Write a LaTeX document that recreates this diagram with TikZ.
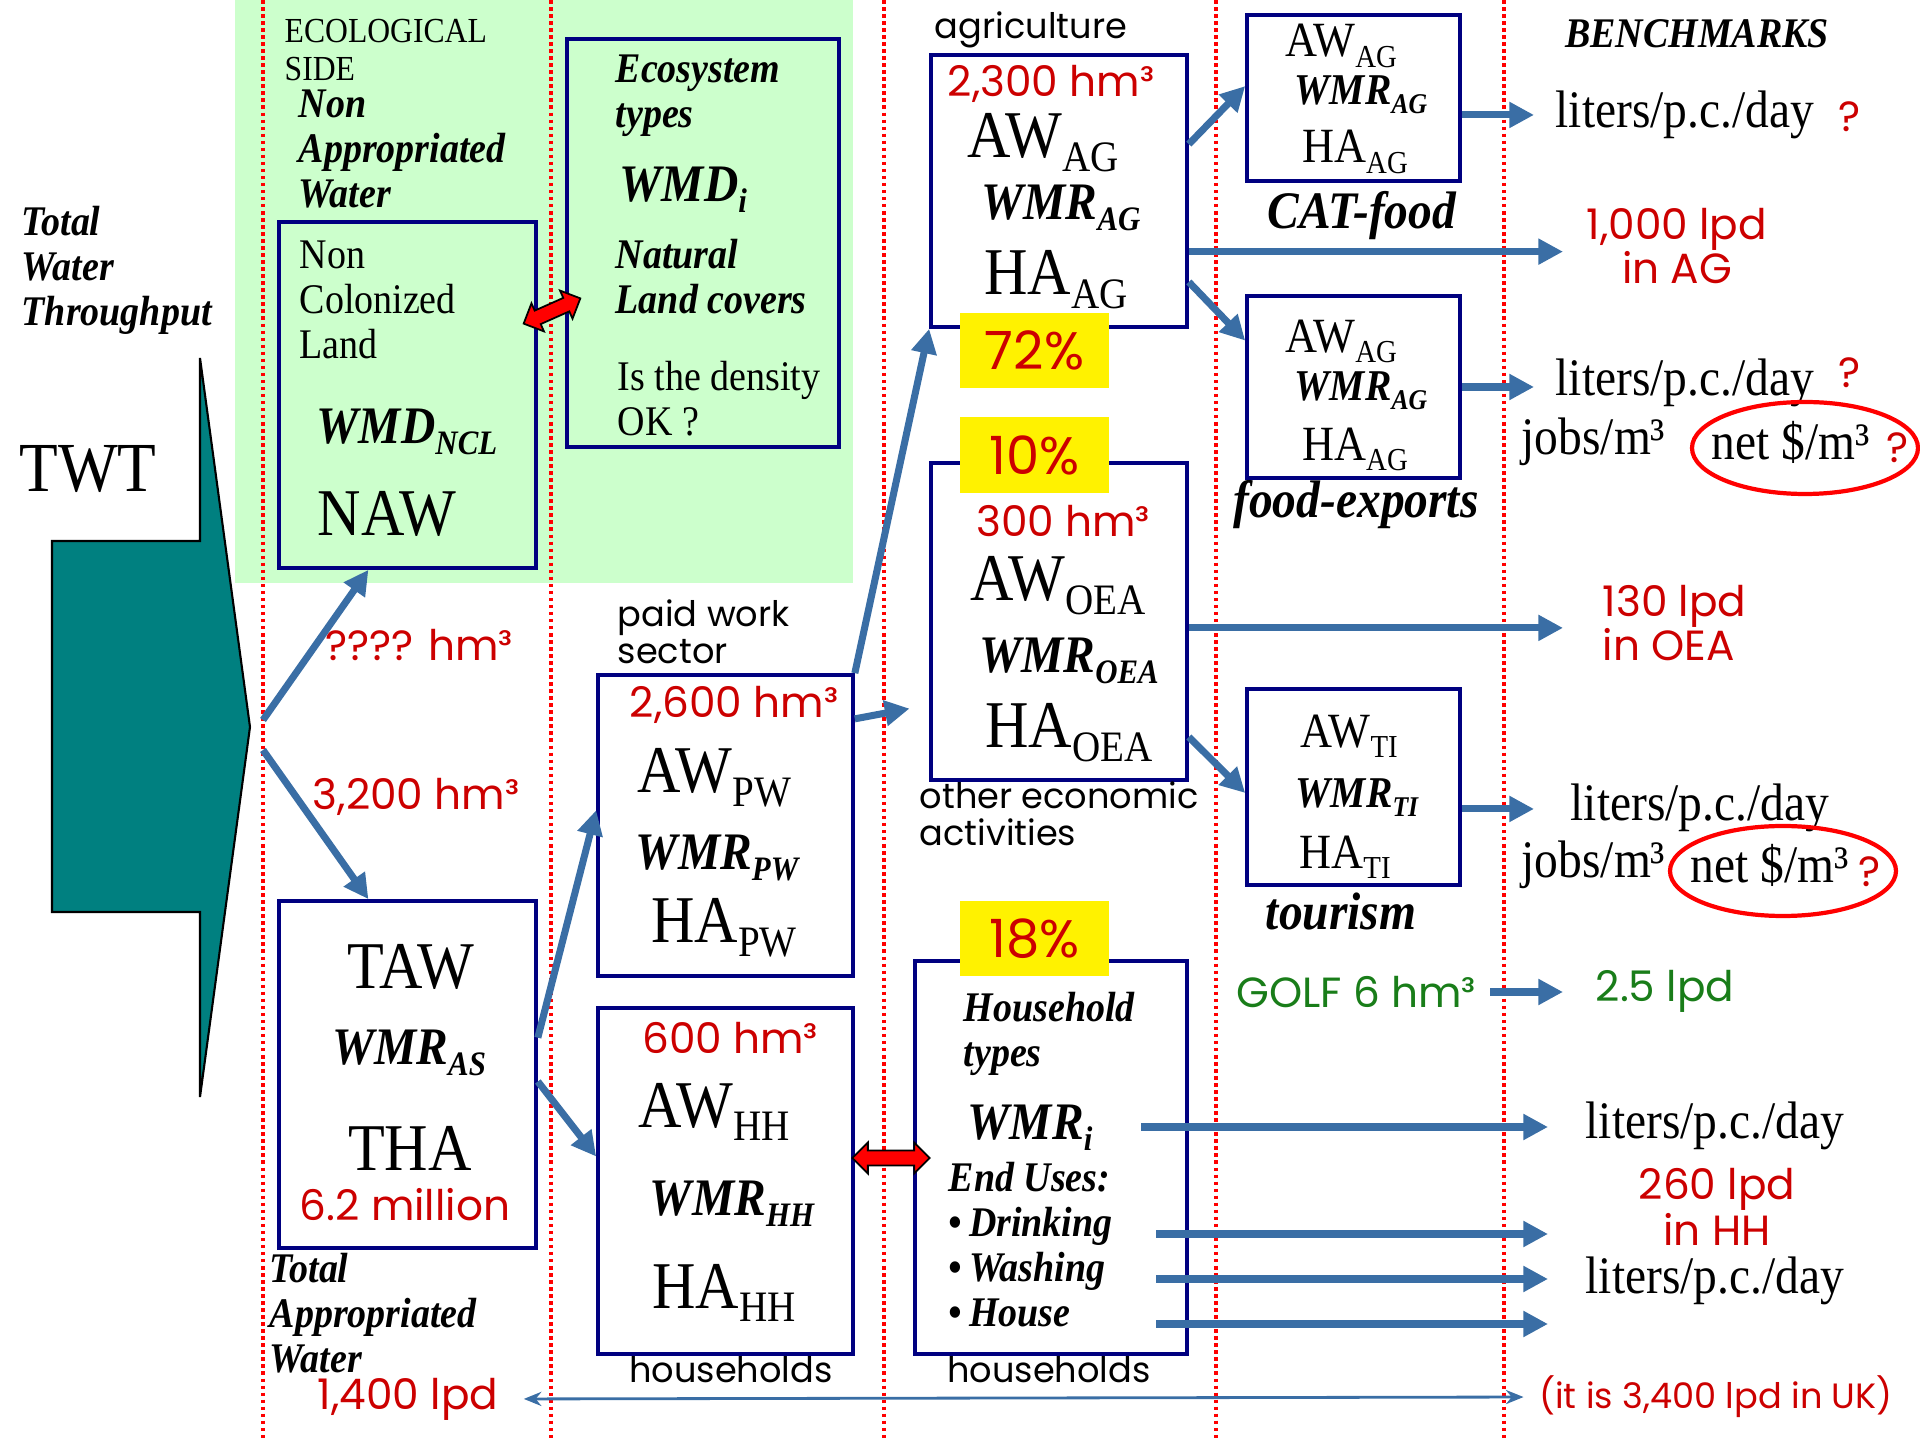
\documentclass[tikz,border=0pt]{standalone}
\usepackage{fontspec}
\usepackage{graphicx}
\setmainfont{Liberation Serif}[FakeStretch=0.9]
\newfontfamily\gothic{Poppins}
\usetikzlibrary{arrows.meta}
\usetikzlibrary{shapes.arrows}
\usetikzlibrary{calc}
\definecolor{navyline}{RGB}{0,0,128}
\definecolor{flowblue}{RGB}{58,110,165}
\definecolor{numred}{RGB}{204,0,0}
\definecolor{ecogreen}{RGB}{204,255,204}
\definecolor{golfgreen}{RGB}{25,125,25}
\definecolor{twtteal}{RGB}{0,128,128}
\newcommand{\subix}[1]{\raisebox{-0.45ex}{\scalebox{0.65}{#1}}}

\begin{document}
\begin{tikzpicture}[x=0.01cm,y=-0.01cm,
  box/.style={draw=navyline,line width=1pt,inner sep=0pt},
  tag/.style={fill=yellow,inner sep=0pt,minimum width=1.49cm,minimum height=0.75cm,
    text=numred,font=\gothic\fontsize{15}{18}\selectfont},
  big/.style={inner sep=0pt,font=\fontsize{19}{22}\selectfont},
  wmr/.style={inner sep=0pt,font=\bfseries\itshape\fontsize{15}{18}\selectfont},
  sbig/.style={inner sep=0pt,font=\fontsize{14}{16}\selectfont},
  swmr/.style={inner sep=0pt,font=\bfseries\itshape\fontsize{12.5}{15}\selectfont},
  note/.style={inner sep=0pt,align=left,font=\fontsize{12}{12.8}\selectfont},
  bnote/.style={inner sep=0pt,align=left,font=\bfseries\itshape\fontsize{12}{12.8}\selectfont},
  amount/.style={inner sep=0pt,text=numred,font=\gothic\fontsize{12}{12.6}\selectfont},
  sector/.style={inner sep=0pt,align=left,font=\gothic\fontsize{10}{10.6}\selectfont},
  bench/.style={inner sep=0pt,font=\fontsize{15}{17}\selectfont},
  flow/.style={draw=flowblue,line width=2pt,-{Triangle[length=7pt,width=7pt]}},
  thinflow/.style={draw=flowblue,line width=0.8pt,{Stealth[length=5pt,width=4pt]}-{Stealth[length=5pt,width=4pt]}},
  relink/.style={double arrow,draw=black,fill=red,line width=0.5pt,inner xsep=0pt,
    inner ysep=0.065cm,double arrow head extend=0.08cm},
  divider/.style={red,line width=1pt,dash pattern=on 1pt off 1pt}
]
\useasboundingbox (0,0) rectangle (1920,1440);
\fill[ecogreen] (235,0) rectangle (853,583);
\foreach \x in {263,551,884,1216,1504}
  \draw[divider] (\x,0) -- (\x,1440);

% inflow
\draw[fill=twtteal,line width=0.6pt] (200,358) -- (200,541) -- (52,541) -- (52,912)
   -- (200,912) -- (200,1097) -- (250,727) -- cycle;
\node[bnote,anchor=west] (twtlbl) at (21,270) {Total\\Water\\Throughput};
\node[inner sep=0pt,font=\fontsize{20}{24}\selectfont] (twt) at (88,469) {TWT};

% ecological side
\node[note,font=\fontsize{10}{10.8}\selectfont,anchor=west] (ecoside) at (284,50) {ECOLOGICAL\\SIDE};
\node[bnote,anchor=west] (nawlbl) at (298,149) {Non\\Appropriated\\Water};
\node[box,minimum width=2.57cm,minimum height=3.46cm] (ncl) at (407.5,395) {};
\node[note,anchor=west] (ncltxt) at (299,300) {Non\\Colonized\\Land};
\node[wmr] (nclwmd) at (407,432) {WMD\subix{NCL}};
\node[big] (naw) at (387,514) {NAW};
\node[box,minimum width=2.72cm,minimum height=4.08cm] (eco) at (703,243) {};
\node[bnote,anchor=west] (ecotype) at (615,96) {Ecosystem\\types};
\node[wmr,anchor=west] (ecowmd) at (619,190) {WMD\subix{i}};
\node[bnote,anchor=west] (ecoland) at (615,277) {Natural\\Land covers};
\node[note,anchor=west] (ecoq) at (617,399) {Is the density\\OK ?};
\node[relink,rotate=24,minimum height=0.62cm] (ecolink) at (552,311) {};

% appropriated side
\node[box,minimum width=2.57cm,minimum height=3.47cm] (taw) at (407.5,1074.5) {};
\node[big] (tawt) at (411,967) {TAW};
\node[wmr] (tawwmr) at (409,1053) {WMR\subix{AS}};
\node[big] (tawh) at (410,1148) {THA};
\node[amount] (pop) at (405,1205) {6.2 million};
\node[bnote,anchor=west] (tawlbl) at (269,1313) {Total\\Appropriated\\Water};
\node[amount] (ncla) at (419,645) {???? hm³};
\node[amount] (tawa) at (416,797) {3,200 hm³};
\node[amount] (lpdall) at (408,1399) {1,400 lpd};

\node[sector,anchor=west] (pwlbl) at (617,632) {paid work\\sector};
\node[box,minimum width=2.55cm,minimum height=3.01cm] (pw) at (725.5,825.5) {};
\node[amount] (pwa) at (734,705) {2,600 hm³};
\node[big] (pwaw) at (714,778) {AW\subix{PW}};
\node[wmr] (pwwmr) at (717,858) {WMR\subix{PW}};
\node[big] (pwha) at (724,928) {HA\subix{PW}};

\node[box,minimum width=2.55cm,minimum height=3.46cm] (hh) at (725.5,1181) {};
\node[amount] (hha) at (730,1038) {600 hm³};
\node[big] (hhaw) at (714,1112) {AW\subix{HH}};
\node[wmr] (hhwmr) at (732,1204) {WMR\subix{HH}};
\node[big] (hhha) at (724,1293) {HA\subix{HH}};
\node[sector] (hhlbl) at (731,1370) {households};

% sectors
\node[sector] (aglbl) at (1031,30) {agriculture};
\node[box,minimum width=2.56cm,minimum height=2.72cm] (ag) at (1059,191) {};
\node[amount] (aga) at (1051,84) {2,300 hm³};
\node[big] (agaw) at (1043,143) {AW\subix{AG}};
\node[wmr] (agwmr) at (1061,208) {WMR\subix{AG}};
\node[big] (agha) at (1056,280) {HA\subix{AG}};

\node[box,minimum width=2.56cm,minimum height=3.17cm] (oea) at (1059,621.5) {};
\node[amount] (oeaa) at (1063,521) {300 hm³};
\node[big] (oeaaw) at (1058,586) {AW\subix{OEA}};
\node[wmr] (oeawmr) at (1069,661) {WMR\subix{OEA}};
\node[big] (oeaha) at (1069,733) {HA\subix{OEA}};
\node[sector,anchor=west] (oealbl) at (919,814) {other economic\\activities};

\node[box,minimum width=2.72cm,minimum height=3.93cm] (hht) at (1051,1157.5) {};
\node[bnote,anchor=west] (hhtype) at (963,1034) {Household\\types};
\node[wmr,anchor=west] (hhtwmr) at (967,1128) {WMR\subix{i}};
\node[bnote,anchor=west] (enduse) at (948,1245) {End Uses:\\\textbullet\,Drinking\\\textbullet\,Washing\\\textbullet\,House};
\node[sector] (hhtlbl) at (1049,1370) {households};
\node[relink,minimum height=0.77cm] (hhlink) at (891,1158) {};

\node[tag] (p72) at (1034.5,350.5) {72\%};
\node[tag] (p10) at (1034.5,455) {10\%};
\node[tag] (p18) at (1034.5,938.5) {18\%};

% sub sectors
\node[box,minimum width=2.13cm,minimum height=1.66cm] (cat) at (1353.5,98) {};
\node[sbig] (cataw) at (1341,46) {AW\subix{AG}};
\node[swmr] (catwmr) at (1361,95) {WMR\subix{AG}};
\node[sbig] (catha) at (1355,152) {HA\subix{AG}};
\node[bnote,font=\bfseries\itshape\fontsize{15}{18}\selectfont] (catlbl) at (1362,216) {CAT-food};

\node[box,minimum width=2.13cm,minimum height=1.82cm] (fex) at (1353.5,387) {};
\node[sbig] (fexaw) at (1341,341) {AW\subix{AG}};
\node[swmr] (fexwmr) at (1361,391) {WMR\subix{AG}};
\node[sbig] (fexha) at (1355,449) {HA\subix{AG}};
\node[bnote,font=\bfseries\itshape\fontsize{15}{18}\selectfont] (fexlbl) at (1356,505) {food-exports};

\node[box,minimum width=2.13cm,minimum height=1.96cm] (ti) at (1353.5,787) {};
\node[sbig] (tiaw) at (1349,736) {AW\subix{TI}};
\node[swmr] (tiwmr) at (1357,798) {WMR\subix{TI}};
\node[sbig] (tiha) at (1345,857) {HA\subix{TI}};
\node[bnote,font=\bfseries\itshape\fontsize{15}{18}\selectfont] (tilbl) at (1341,912) {tourism};

\node[amount,text=golfgreen] (golf) at (1356,992) {GOLF 6 hm³};

% benchmarks
\node[bnote] (benchlbl) at (1697,34) {BENCHMARKS};
\node[bench,anchor=west] (lit1) at (1555,115) {liters/p.c./day};
\node[amount] (q1) at (1850,117) {?};
\node[amount,align=center] (lpdag) at (1677,246) {1,000 lpd\\in AG};
\node[bench,anchor=west] (lit2) at (1555,383) {liters/p.c./day};
\node[amount] (q2) at (1850,373) {?};
\node[bench,anchor=west] (jobs1) at (1521,442) {jobs/m³};
\node[bench,anchor=west] (net1) at (1711,442) {net \$/m³};
\node[amount] (q3) at (1898,448) {?};
\draw[red,line width=1.2pt] (1805,448) ellipse [x radius=113,y radius=46];
\node[amount,align=left,anchor=west] (lpdoea) at (1602,623) {130 lpd\\in OEA};
\node[bench,anchor=west] (lit3) at (1570,808) {liters/p.c./day};
\node[bench,anchor=west] (jobs2) at (1521,865) {jobs/m³};
\node[bench,anchor=west] (net2) at (1690,865) {net \$/m³};
\node[amount] (q4) at (1870,872) {?};
\draw[red,line width=1.2pt] (1783,871) ellipse [x radius=113,y radius=45];
\node[amount,text=golfgreen] (lpdgolf) at (1665,991) {2.5 lpd};
\node[bench,anchor=west] (lit4) at (1585,1126) {liters/p.c./day};
\node[amount,align=center,font=\gothic\fontsize{12}{12.2}\selectfont] (lpdhh) at (1717,1207) {260 lpd\\in HH};
\node[bench,anchor=west] (lit5) at (1585,1281) {liters/p.c./day};
\node[amount,font=\gothic\fontsize{10}{12}\selectfont] (uk) at (1716,1397) {(it is 3,400 lpd in UK)};

% flows
\coordinate (twtup) at (263,720);
\coordinate (twtdn) at (263,750);
\coordinate (rim) at (1563,0);
\coordinate (rimb) at (1534,0);
\coordinate (rimc) at (1548,0);
\coordinate (agmid) at ($(ag.north east)!0.72!(ag.south east)$);
\coordinate (oeamid) at ($(oea.north east)!0.52!(oea.south east)$);
\coordinate (catout) at ($(cat.north east)!0.6!(cat.south east)$);
\coordinate (tiout) at ($(ti.north east)!0.61!(ti.south east)$);
\coordinate (eu0) at (1141,1127);
\coordinate (eu1) at (1156,1234);
\coordinate (eu2) at (1156,1279);
\coordinate (eu3) at (1156,1324);

\draw[flow] (twtup) -- ($(ncl.south west)!0.35!(ncl.south east)$);
\draw[flow] (twtdn) -- ($(taw.north west)!0.35!(taw.north east)$);
\draw[flow] ($(taw.north east)!0.395!(taw.south east)$) -- ($(pw.north west)!0.45!(pw.south west)$);
\draw[flow] ($(taw.north east)!0.52!(taw.south east)$) -- ($(hh.north west)!0.43!(hh.south west)$);
\draw[flow] (pw.north east) -- (ag.south west);
\draw[flow,shorten >=0.2cm] ($(pw.north east)!0.15!(pw.south east)$) -- ($(oea.north west)!0.76!(oea.south west)$);
\draw[flow] ($(ag.north east)!0.33!(ag.south east)$) -- ($(cat.north west)!0.43!(cat.south west)$);
\draw[flow] ($(ag.north east)!0.83!(ag.south east)$) -- ($(fex.north west)!0.25!(fex.south west)$);
\draw[flow] (agmid) -- (agmid -| rim);
\draw[flow] (oeamid) -- (oeamid -| rim);
\draw[flow] ($(oea.north east)!0.86!(oea.south east)$) -- ($(ti.north west)!0.53!(ti.south west)$);
\draw[flow] (catout) -- (catout -| rimb);
\draw[flow] (fex.east) -- (fex.east -| rimb);
\draw[flow] (tiout) -- (tiout -| rimb);
\draw[flow,shorten <=0.14cm] (golf.east) -- (golf.east -| rim);
\foreach \i in {0,...,3}
  \draw[flow] (eu\i) -- (eu\i -| rimc);
\draw[thinflow,shorten <=0.25cm,shorten >=0.15cm] (lpdall.east) -- (uk.west);
\end{tikzpicture}
\end{document}
